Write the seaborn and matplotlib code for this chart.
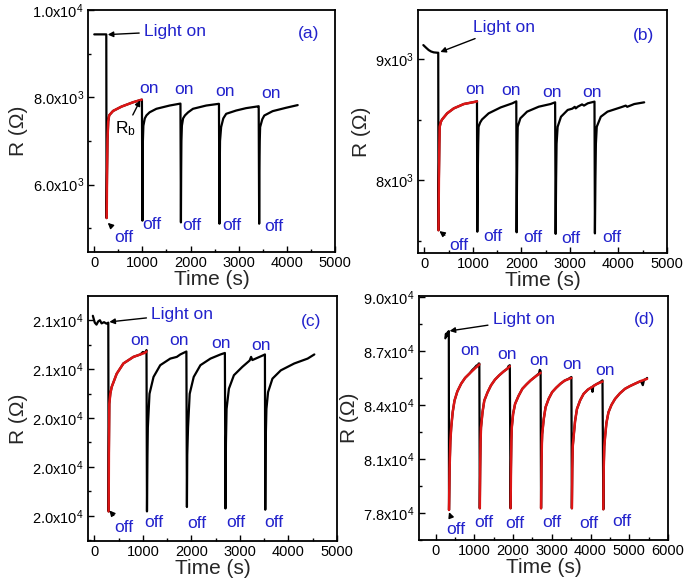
import numpy as np
import pandas as pd
import matplotlib
matplotlib.use("Agg")
import matplotlib.pyplot as plt
from matplotlib.ticker import FuncFormatter, MultipleLocator, FixedLocator
import seaborn as sns

# ---- panel (a) ----
a_time = [0, 250, 255, 265, 275, 290, 310, 390, 565, 805, 990,
          1000, 1005, 1010, 1020, 1050, 1085, 1150, 1290, 1565, 1790,
          1800, 1805, 1810, 1820, 1845, 1885, 1950, 2050, 2325, 2590,
          2600, 2605, 2612, 2635, 2680, 2740, 2946, 3153, 3395, 3415,
          3425, 3430, 3437, 3445, 3490, 3532, 3705, 3981, 4225]
a_res = [9450, 9450, 5230, 6200, 7000, 7450, 7590, 7690, 7790, 7890, 7950,
         5170, 6300, 7000, 7350, 7520, 7590, 7660, 7740, 7815, 7860,
         5130, 6300, 7000, 7350, 7520, 7590, 7660, 7740, 7815, 7855,
         5100, 6300, 7000, 7320, 7520, 7625, 7700, 7755, 7795, 7800,
         5100, 6300, 7000, 7320, 7500, 7586, 7686, 7763, 7825]
a_fit_time = [258, 265, 275, 290, 310, 390, 565, 805, 985]
a_fit_res = [5230, 6300, 7050, 7450, 7590, 7690, 7790, 7890, 7950]

# ---- panel (b) ----
b_time = [-20, 40, 90, 140, 193, 267, 287,
          292, 300, 310, 317, 340, 366, 470, 607, 814, 1056, 1085,
          1092, 1100, 1110, 1118, 1150, 1188, 1325, 1573, 1815, 1895,
          1902, 1910, 1918, 1924, 1979, 2117, 2358, 2600, 2695,
          2706, 2715, 2725, 2747, 2816, 2954, 3050, 3100, 3120, 3161, 3250, 3290, 3368, 3506,
          3515, 3525, 3535, 3553, 3636, 3774, 4050, 4150, 4180, 4326, 4530]
b_res = [9115, 9092, 9074, 9062, 9055, 9052, 9052,
         7585, 8000, 8300, 8440, 8480, 8500, 8551, 8592, 8628, 8647, 8652,
         7573, 8000, 8300, 8440, 8475, 8500, 8551, 8600, 8634, 8650,
         7568, 8000, 8300, 8440, 8510, 8565, 8606, 8628, 8642,
         7555, 8000, 8300, 8440, 8523, 8579, 8590, 8605, 8592, 8606, 8625, 8615, 8634, 8648,
         7559, 8000, 8300, 8440, 8523, 8565, 8601, 8615, 8605, 8628, 8642]
b_fit_time = [292, 300, 310, 317, 340, 366, 470, 607, 814, 1056, 1085]
b_fit_res = [7585, 8000, 8300, 8440, 8480, 8500, 8551, 8592, 8628, 8647, 8650]

# ---- panel (c) ----
c_time = [-30, 10, 45, 80, 115, 150, 200, 250, 288,
          295, 300, 309, 330, 358, 461, 599, 806, 950, 1000, 1048, 1075,
          1085, 1095, 1103, 1137, 1220, 1358, 1565, 1700, 1772, 1897,
          1908, 1915, 1931, 1965, 2048, 2186, 2393, 2600, 2690,
          2702, 2712, 2725, 2773, 2876, 3049, 3200, 3230, 3256, 3484, 3515,
          3522, 3530, 3546, 3580, 3670, 3843, 4119, 4395, 4533]
c_res = [20818, 20790, 20782, 20795, 20800, 20787, 20792, 20786, 20790,
         20018, 20250, 20458, 20500, 20527, 20581, 20623, 20650, 20660, 20670, 20667, 20678,
         20018, 20250, 20362, 20499, 20568, 20616, 20643, 20650, 20660, 20672,
         20036, 20250, 20362, 20499, 20568, 20616, 20643, 20660, 20666,
         20030, 20300, 20437, 20520, 20575, 20609, 20635, 20650, 20637, 20657, 20660,
         20025, 20300, 20437, 20506, 20561, 20595, 20623, 20643, 20660]
c_fit_time = [295, 300, 309, 330, 358, 461, 599, 806, 1048, 1075]
c_fit_res = [20018, 20250, 20458, 20500, 20527, 20581, 20623, 20650, 20667, 20672]

# ---- panel (d) ----
d_time = [250, 265, 280, 300, 320, 340,
          345, 360, 380, 402, 440, 487, 560, 658, 760, 872, 950, 1000, 1060, 1085, 1110, 1128,
          1140, 1150, 1160, 1171, 1210, 1256, 1340, 1428, 1530, 1641, 1750, 1854, 1880, 1915,
          1935, 1945, 1955, 1966, 2000, 2051, 2140, 2239, 2350, 2453, 2560, 2640, 2667, 2690, 2710,
          2722, 2732, 2742, 2751, 2790, 2838, 2920, 3008, 3110, 3223, 3330, 3436, 3505,
          3518, 3528, 3540, 3564, 3600, 3649, 3730, 3821, 3930, 4033, 4050, 4070, 4150, 4249, 4308,
          4330, 4340, 4355, 4377, 4410, 4462, 4540, 4633, 4760, 4890, 5020, 5146, 5300, 5350, 5380, 5444, 5460]
d_res = [87700, 87950, 87800, 88000, 88050, 88100,
         78168, 80500, 82000, 82750, 83600, 84241, 84750, 85178, 85500, 85738, 85950, 86050, 86200, 86150, 86300, 86300,
         78262, 80500, 82000, 82750, 83600, 84241, 84700, 85084, 85400, 85645, 85850, 86019, 86150, 86206,
         78262, 80500, 82000, 82750, 83500, 84056, 84500, 84897, 85150, 85364, 85550, 85700, 85738, 85950, 85887,
         78262, 80500, 81800, 82374, 83200, 83869, 84350, 84710, 84950, 85178, 85350, 85458, 85551,
         78262, 80500, 81700, 82281, 83100, 83776, 84250, 84617, 84850, 84990, 84729, 85050, 85150, 85271, 85364,
         78206, 80500, 81700, 82281, 83000, 83589, 84000, 84336, 84650, 84897, 85050, 85178, 85330, 85100, 85380, 85458, 85500]
d_fit_time = [345, 360, 380, 402, 440, 487, 560, 658, 760, 872, 1000, 1128,
              1140, 1150, 1160, 1171, 1210, 1256, 1340, 1428, 1530, 1641, 1750, 1854, 1915,
              1935, 1945, 1955, 1966, 2000, 2051, 2140, 2239, 2350, 2453, 2560, 2710,
              2722, 2732, 2742, 2751, 2790, 2838, 2920, 3008, 3110, 3223, 3330, 3505,
              3518, 3528, 3540, 3564, 3600, 3649, 3730, 3821, 3930, 4033, 4150, 4308,
              4330, 4340, 4355, 4377, 4410, 4462, 4540, 4633, 4760, 4890, 5020, 5146, 5300, 5460]
d_fit_res = [78168, 80500, 82000, 82750, 83600, 84241, 84750, 85178, 85500, 85738, 86000, 86250,
             78262, 80500, 82000, 82750, 83600, 84241, 84700, 85084, 85400, 85645, 85850, 86019, 86150,
             78262, 80500, 82000, 82750, 83500, 84056, 84500, 84897, 85150, 85364, 85550, 85780,
             78262, 80500, 81800, 82374, 83200, 83869, 84350, 84710, 84950, 85178, 85350, 85500,
             78262, 80500, 81700, 82281, 83100, 83776, 84250, 84617, 84850, 84990, 85150, 85300,
             78206, 80500, 81700, 82281, 83000, 83589, 84000, 84336, 84650, 84897, 85050, 85178, 85330, 85450]
d_fit_seg = [1] * 12 + [2] * 13 + [3] * 12 + [4] * 12 + [5] * 12 + [6] * 14

BLUE = "#2222cc"
RED = "#dd1515"

sns.set_style("ticks")
plt.rcParams["font.family"] = ["Liberation Sans", "DejaVu Sans"]
plt.rcParams["mathtext.fontset"] = "custom"
plt.rcParams["mathtext.rm"] = "Liberation Sans"
plt.rcParams["mathtext.default"] = "regular"

fig = plt.figure(figsize=(6.85, 5.88), dpi=100)
W, H = 685, 588


def make_ax(l, t, r, b):
    return fig.add_axes([l / W, 1 - b / H, (r - l) / W, (b - t) / H])


def sci(dec):
    def f(v, pos):
        e = int(np.floor(np.log10(v)))
        m = v / 10 ** e
        return f"{m:.{dec}f}x10$^{{{e}}}$"
    return FuncFormatter(f)


def style(ax, xlim, ylim, yticks, ymin_step, dec, xmax_tick):
    ax.set_xlim(*xlim)
    ax.set_ylim(*ylim)
    ax.xaxis.set_major_locator(FixedLocator(np.arange(0, xmax_tick + 1, 1000)))
    ax.xaxis.set_minor_locator(MultipleLocator(500))
    ax.yaxis.set_major_locator(FixedLocator(yticks))
    ax.yaxis.set_minor_locator(MultipleLocator(ymin_step))
    ax.yaxis.set_major_formatter(sci(dec))
    ax.tick_params(which="both", direction="in", top=False, right=False,
                   labelsize=10.5, colors="black", pad=3)
    ax.tick_params(which="major", length=4, width=1)
    ax.tick_params(which="minor", length=2.5, width=1)
    for s in ax.spines.values():
        s.set_visible(True)
        s.set_color("black")
        s.set_linewidth(1.3)
    ax.set_xlabel("Time (s)", fontsize=15, labelpad=0)
    ax.set_ylabel("R (\u03a9)", fontsize=15, labelpad=3)


def draw(ax, t, r, ft, fr, fseg=None):
    sns.lineplot(x=t, y=r, ax=ax, sort=False, estimator=None, color="black",
                 lw=1.6, legend=False)
    if fseg is None:
        sns.lineplot(x=ft, y=fr, ax=ax, sort=False, estimator=None, color=RED,
                     lw=1.8, legend=False)
    else:
        df = pd.DataFrame({"t": ft, "r": fr, "seg": fseg})
        sns.lineplot(data=df, x="t", y="r", units="seg", ax=ax, sort=False,
                     estimator=None, color=RED, lw=1.8, legend=False)


def note(ax, s, x, y, ha="center"):
    ax.text(x, y, s, color=BLUE, fontsize=12.5, ha=ha, va="center")


def arrow_note(ax, s, xy, xytext, ha="left", color=BLUE):
    ax.annotate(s, xy=xy, xytext=xytext, color=color, fontsize=12.5, ha=ha,
                va="center",
                arrowprops=dict(arrowstyle="-|>", color="black", lw=1,
                                mutation_scale=8, shrinkA=1, shrinkB=0))


# (a)
ax = make_ax(88, 10, 335, 252)
draw(ax, a_time, a_res, a_fit_time, a_fit_res)
style(ax, (-130, 5000), (4450, 10010), [6000, 8000, 10000], 1000, 1, 5000)
arrow_note(ax, "Light on", (280, 9445), (1030, 9520))
note(ax, "(a)", 4450, 9470)
for x, y in [(1130, 8207), (1862, 8177), (2724, 8145), (3670, 8099)]:
    note(ax, "on", x, y)
arrow_note(ax, "off", (280, 5120), (613, 4775), ha="center")
for x, y in [(1186, 5080), (2035, 5057), (2855, 5057), (3739, 5034)]:
    note(ax, "off", x, y)
arrow_note(ax, "R$_b$", (955, 7935), (654, 7280), ha="center", color="black")

# (b)
ax = make_ax(418, 10, 667, 253)
draw(ax, b_time, b_res, b_fit_time, b_fit_res)
style(ax, (-130, 5000), (7397, 9405), [8000, 9000], 500, 0, 5000)
arrow_note(ax, "Light on", (330, 9058), (1010, 9262))
note(ax, "(b)", 4508, 9198)
for x, y in [(1040, 8744), (1787, 8738), (2634, 8722), (3462, 8722)]:
    note(ax, "on", x, y)
arrow_note(ax, "off", (310, 7578), (710, 7457), ha="center")
for x, y in [(1414, 7532), (2242, 7526), (3023, 7518), (3857, 7526)]:
    note(ax, "off", x, y)

# (c)
ax = make_ax(88, 296, 337, 541)
draw(ax, c_time, c_res, c_fit_time, c_fit_res)
style(ax, (-130, 5000), (19897, 20899), [20000, 20200, 20400, 20600, 20800], 100, 1, 5000)
arrow_note(ax, "Light on", (310, 20793), (1170, 20825))
note(ax, "(c)", 4464, 20795)
for x, y in [(944, 20719), (1737, 20715), (2600, 20705), (3429, 20696)]:
    note(ax, "on", x, y)
arrow_note(ax, "off", (310, 20022), (613, 19953), ha="center")
for x, y in [(1234, 19974), (2118, 19967), (2911, 19974), (3692, 19974)]:
    note(ax, "off", x, y)

# (d)
ax = make_ax(419, 296, 668, 540)
draw(ax, d_time, d_res, d_fit_time, d_fit_res, d_fit_seg)
style(ax, (-430, 6000), (76500, 90050), [78000, 81000, 84000, 87000, 90000], 1500, 1, 6000)
arrow_note(ax, "Light on", (360, 88110), (1470, 88727))
note(ax, "(d)", 5385, 88727)
for x, y in [(897, 87011), (1855, 86804), (2667, 86484), (3521, 86243), (4376, 85923)]:
    note(ax, "on", x, y)
arrow_note(ax, "off", (345, 78050), (513, 77086), ha="center")
for x, y in [(1231, 77479), (2051, 77422), (3008, 77479), (3949, 77422), (4803, 77512)]:
    note(ax, "off", x, y)

fig.savefig("out.png", dpi=100)
